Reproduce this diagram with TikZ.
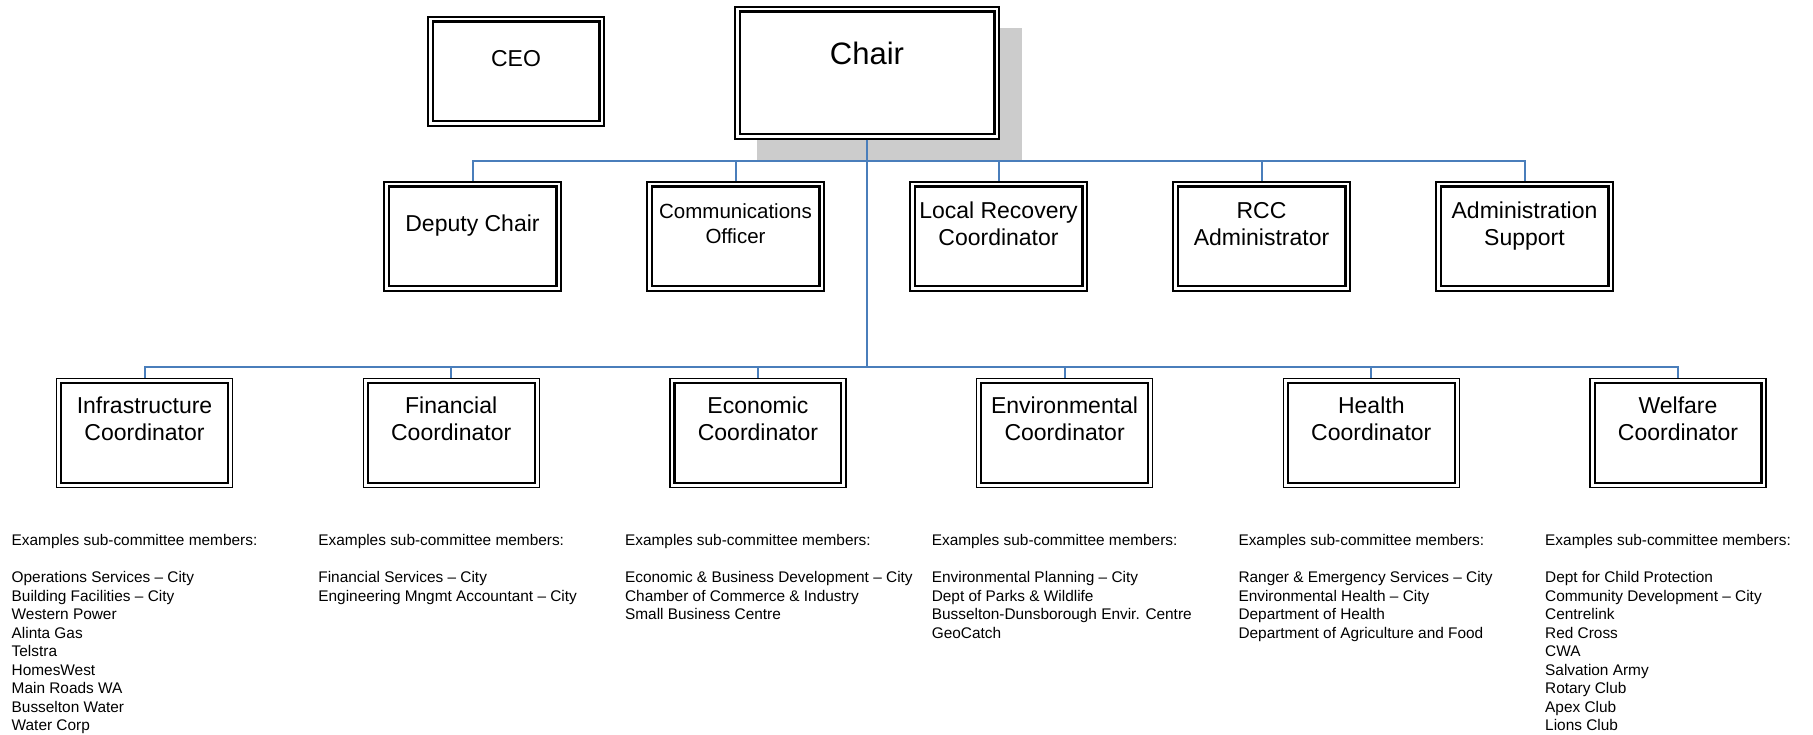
\documentclass[tikz,border=0pt]{standalone}
\usepackage{fontspec}
\setmainfont{Liberation Sans}
\definecolor{linkblue}{HTML}{4A7EBB}
\definecolor{shadowgray}{HTML}{CCCCCC}
\newcommand\twoln[2]{\begin{tabular}[t]{@{}c@{}}#1\\#2\end{tabular}}
\begin{document}
\begin{tikzpicture}[x=1pt,y=-1pt,
  orgbox/.style={draw=black, line width=1.2pt, fill=white, inner sep=0pt,
    minimum width=177pt, minimum height=109pt,
    path picture={\draw[line width=2.2pt] ([shift={(4.6pt,4.6pt)}]path picture bounding box.south west) rectangle ([shift={(-4.6pt,-4.6pt)}]path picture bounding box.north east);}},
  boxtext/.style={inner sep=0pt, anchor=base, font=\fontsize{23}{27}\selectfont},
  smalltext/.style={inner sep=0pt, anchor=base, font=\fontsize{20.5}{25}\selectfont},
  bigtext/.style={inner sep=0pt, anchor=base, font=\fontsize{31}{36}\selectfont},
  lvlthree/.style={inner sep=0pt, anchor=base, font=\fontsize{23}{27.5}\selectfont},
  listtext/.style={inner sep=0pt, anchor=base west, font=\fontsize{15.4}{18.5}\selectfont},
  link/.style={draw=linkblue, line width=2pt},
  trunk/.style={draw=linkblue, line width=2.8pt},
]
\useasboundingbox (0,0) rectangle (1813,735);

% shadow of the Chair box
\fill[shadowgray] (757,28) rectangle (1022,160);

% top boxes
\node[orgbox, minimum width=264pt, minimum height=132pt] (chair) at (867,73) {};
\node[orgbox, minimum width=176pt] (ceo) at (516,71.5) {};
\node[bigtext] (chairt) at (867,65) {Chair};
\node[boxtext] (ceot) at (516,66.2) {CEO};

% junctions
\coordinate (j1) at (867,161);
\coordinate (j2) at (867,367);

% level 2 boxes
\node[orgbox] (dep) at (472.5,236.5) {};
\node[orgbox] (com) at (735.5,236.5) {};
\node[orgbox] (lrc) at (998.5,236.5) {};
\node[orgbox] (rcc) at (1261.5,236.5) {};
\node[orgbox] (adm) at (1524.5,236.5) {};

\node[boxtext] (dept) at (472.5,231.2) {Deputy Chair};
\node[smalltext] (comt) at (735.5,219) {\twoln{Communications}{Officer}};
\node[boxtext] (lrct) at (998.5,218.2) {\twoln{Local Recovery}{Coordinator}};
\node[boxtext] (rcct) at (1261.5,218.2) {\twoln{RCC}{Administrator}};
\node[boxtext] (admt) at (1524.5,218.2) {\twoln{Administration}{Support}};

% level 3 boxes
\node[orgbox, minimum width=176pt] (inf) at (144.5,433) {};
\node[orgbox, minimum width=176pt] (fin) at (451.2,433) {};
\node[orgbox, minimum width=176pt] (eco) at (757.9,433) {};
\node[orgbox, minimum width=176pt] (env) at (1064.6,433) {};
\node[orgbox, minimum width=176pt] (hea) at (1371.3,433) {};
\node[orgbox, minimum width=176pt] (wel) at (1678,433) {};

\node[lvlthree] (inft) at (144.5,413.2) {\twoln{Infrastructure}{Coordinator}};
\node[lvlthree] (fint) at (451.2,413.2) {\twoln{Financial}{Coordinator}};
\node[lvlthree] (ecot) at (757.9,413.2) {\twoln{Economic}{Coordinator}};
\node[lvlthree] (envt) at (1064.6,413.2) {\twoln{Environmental}{Coordinator}};
\node[lvlthree] (heat) at (1371.3,413.2) {\twoln{Health}{Coordinator}};
\node[lvlthree] (welt) at (1678,413.2) {\twoln{Welfare}{Coordinator}};

% connectors
\draw[trunk] (chair.south) -- (j2);
\foreach \b in {dep,com,lrc,rcc,adm} \draw[link] (j1) -| (\b.north);
\foreach \b in {inf,fin,eco,env,hea,wel} \draw[link] (j2) -| (\b.north);

% member lists
\node[listtext] (l1) at (11.5,545.5) {\begin{tabular}[t]{@{}l@{}}Examples sub-committee members:\\ \\
Operations Services – City\\Building Facilities – City\\Western Power\\Alinta Gas\\Telstra\\HomesWest\\Main Roads WA\\Busselton Water\\Water Corp\end{tabular}};
\node[listtext] (l2) at (318.2,545.5) {\begin{tabular}[t]{@{}l@{}}Examples sub-committee members:\\ \\
Financial Services – City\\Engineering Mngmt Accountant – City\end{tabular}};
\node[listtext] (l3) at (624.9,545.5) {\begin{tabular}[t]{@{}l@{}}Examples sub-committee members:\\ \\
Economic \& Business Development – City\\Chamber of Commerce \& Industry\\Small Business Centre\end{tabular}};
\node[listtext] (l4) at (931.6,545.5) {\begin{tabular}[t]{@{}l@{}}Examples sub-committee members:\\ \\
Environmental Planning – City\\Dept of Parks \& Wildlife\\Busselton-Dunsborough Envir. Centre\\GeoCatch\end{tabular}};
\node[listtext] (l5) at (1238.3,545.5) {\begin{tabular}[t]{@{}l@{}}Examples sub-committee members:\\ \\
Ranger \& Emergency Services – City\\Environmental Health – City\\Department of Health\\Department of Agriculture and Food\end{tabular}};
\node[listtext] (l6) at (1545,545.5) {\begin{tabular}[t]{@{}l@{}}Examples sub-committee members:\\ \\
Dept for Child Protection\\Community Development – City\\Centrelink\\Red Cross\\CWA\\Salvation Army\\Rotary Club\\Apex Club\\Lions Club\end{tabular}};
\end{tikzpicture}
\end{document}
